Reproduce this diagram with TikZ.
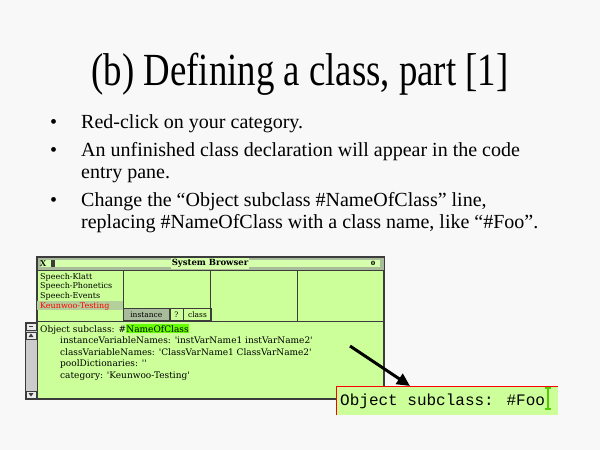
\documentclass[tikz,border=0pt]{standalone}
\usepackage{graphicx}
\usepackage{fontspec}
\setmainfont{Liberation Serif}
\newfontfamily\mono{Liberation Mono}
\newfontfamily\schermo{DejaVu Serif}
\usetikzlibrary{arrows.meta,positioning}
\definecolor{sfondo}{HTML}{F8F8F8}
\definecolor{verdino}{HTML}{CCFF99}
\definecolor{verdone}{HTML}{66FF00}
\definecolor{grigioverde}{HTML}{A8BC9C}
\definecolor{bordo}{HTML}{3C3C3C}
\tikzset{
>=Stealth,
pannello/.style={draw=bordo,line width=0.8pt},
punto/.style={anchor=base west,inner sep=0pt,font=\fontsize{20}{27}\selectfont},
voce/.style={anchor=base west,inner sep=0pt,font=\schermo\fontsize{8}{9}\selectfont},
codice/.style={anchor=base west,inner sep=0pt,font=\schermo\fontsize{9}{10}\selectfont},
bottone/.style={draw=bordo,line width=0.6pt,anchor=south west,minimum height=12pt,inner sep=0pt,font=\schermo\fontsize{7.5}{9}\selectfont},
freccia/.style={-{Triangle[length=13pt,width=12pt]},line width=3pt}}

\begin{document}
\begin{tikzpicture}[x=1pt,y=-1pt]

\fill[sfondo] (0,0) rectangle (600,450);
\useasboundingbox (0,0) rectangle (600,450);

\node[font=\fontsize{46}{50}\selectfont,anchor=base] (titolo) at (300,85) {\scalebox{0.8}[1]{(b) Defining a class, part [1]}};

\node[punto] (p1) at (50,128) {\textbullet};
\node[punto] (t1) at (81,128) {Red-click on your category.};
\node[punto] (p2) at (50,156) {\textbullet};
\node[punto] (t2) at (81,156) {An unfinished class declaration will appear in the code};
\node[punto] (t2b) at (81,178) {entry pane.};
\node[punto] (p3) at (50,206) {\textbullet};
\node[punto] (t3) at (81,206) {Change the ``Object subclass \#NameOfClass'' line,};
\node[punto] (t3b) at (81,228) {replacing \#NameOfClass with a class name, like ``\#Foo''.};

% finestra
\draw[bordo,line width=1.5pt,fill=verdino] (37,257) rectangle (384,399);
\draw[pannello,fill=grigioverde] (37,257) rectangle (384,270);
\fill[verdino!80!white] (41,260) rectangle (380,267);
\node[inner sep=0pt,font=\bfseries\fontsize{9}{9}\selectfont] (chiudi) at (43,263.5) {X};
\fill[bordo] (51,260) rectangle (55,267);
\node[inner sep=1pt,fill=verdino!80!white,font=\schermo\bfseries\fontsize{8.5}{9}\selectfont] (nome) at (210,263.5) {System Browser};
\node[inner sep=0pt,font=\bfseries\fontsize{9}{9}\selectfont] (apri) at (373,263.5) {o};

\fill[grigioverde!70!verdino] (37,301) rectangle (123,310);
\draw[pannello] (37,321) -- (384,321);
\draw[pannello] (123,270) -- (123,321);
\draw[pannello] (210,270) -- (210,321);
\draw[pannello] (297,270) -- (297,321);

\node[voce] (v1) at (40,279) {Speech-Klatt};
\node[voce] (v2) at (40,288.5) {Speech-Phonetics};
\node[voce] (v3) at (40,298) {Speech-Events};
\node[voce,text=red] (v4) at (40,308) {Keunwoo-Testing};

\node[bottone,fill=grigioverde,minimum width=46pt] (b1) at (123,321) {instance};
\node[bottone,minimum width=13pt,right=0pt of b1] (b2) {?};
\node[bottone,minimum width=28pt,right=0pt of b2] (b3) {class};

\node[codice] (c1) at (40,332) {Object subclass: \#};
\node[codice,fill=verdone,inner ysep=1pt] (c1b) at (c1.base east) {NameOfClass};
\node[codice] (c2) at (60,343.5) {instanceVariableNames: 'instVarName1 instVarName2'};
\node[codice] (c3) at (60,355) {classVariableNames: 'ClassVarName1 ClassVarName2'};
\node[codice] (c4) at (60,366.5) {poolDictionaries: ''};
\node[codice] (c5) at (60,378) {category: 'Keunwoo-Testing'};

% barra di scorrimento
\draw[bordo,line width=1pt,fill=gray!40] (25,322) rectangle (37,399);
\draw[bordo,fill=gray!15] (26,323) rectangle (36,330);
\draw[bordo,fill=gray!15] (26,332) rectangle (36,339);
\draw[bordo,fill=gray!15] (26,391) rectangle (36,398);
\draw[bordo,line width=1pt] (29,326.5) -- (33,326.5);
\fill[bordo] (28.5,337) -- (31,333.5) -- (33.5,337) -- cycle;
\fill[bordo] (28.5,393) -- (31,396.5) -- (33.5,393) -- cycle;

% riquadro ingrandito
\node[fill=verdino,anchor=north west,minimum width=222pt,minimum height=29pt,inner sep=0pt] (foo) at (336,386) {};
\draw[red,line width=1pt] (foo.south west) -- (foo.north west) -- (foo.north east);
\node[anchor=base west,inner sep=0pt,font=\mono\fontsize{16}{16}\selectfont] (testo) at (340,405) {Object subclass: \#Foo};
\draw[verdone!80!black,line width=1.2pt] (548,388) -- (548,409);
\draw[verdone!80!black,line width=1.2pt] (545,388) -- (551,388) (545,409) -- (551,409);

\coordinate (coda) at (350,346);
\coordinate (punta) at (410,386);
\draw[freccia] (coda) -- (punta);

\end{tikzpicture}
\end{document}
